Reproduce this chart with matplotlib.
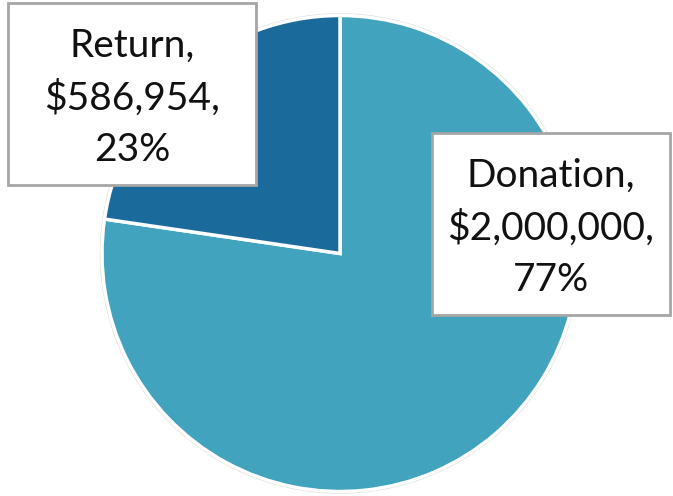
import matplotlib
matplotlib.use("Agg")
import matplotlib.pyplot as plt
from matplotlib.patches import Rectangle

categories = ["Donation", "Return"]
values = [2000000, 586954]
colors = ["#41A3BD", "#1B6A9C"]

W, H = 673, 496
fig = plt.figure(figsize=(W / 100, H / 100), dpi=100)
ax = fig.add_axes([0, 0, 1, 1])

cx, cy, r = 340, H - 253.5, 238
ax.pie(values, colors=colors, startangle=90, counterclock=False,
       center=(cx, cy), radius=r,
       wedgeprops=dict(edgecolor="white", linewidth=2.5))
circ = plt.Circle((cx, cy), r + 1.5, fill=False, edgecolor="#D9D9D9", linewidth=1.0, zorder=0)
ax.add_patch(circ)
ax.set_xlim(0, W)
ax.set_ylim(0, H)
ax.set_aspect("equal")
ax.axis("off")

total = sum(values)
labels = [f"{c},\n${v:,},\n{round(100 * v / total)}%" for c, v in zip(categories, values)]

boxes = {"Donation": (432, 133, 670, 315), "Return": (8, 3, 256, 185)}
for c, lab in zip(categories, labels):
    x0, y0, x1, y1 = boxes[c]
    ax.add_patch(Rectangle((x0, H - y1), x1 - x0, y1 - y0, facecolor="white",
                           edgecolor="#A6A6A6", linewidth=2, zorder=5))
    ax.text((x0 + x1) / 2, H - (y0 + y1) / 2 - 4, lab, ha="center", va="center",
            fontsize=28, family="Lato", linespacing=1.52, color="#111111", zorder=6)

fig.savefig("out.png", dpi=100)
